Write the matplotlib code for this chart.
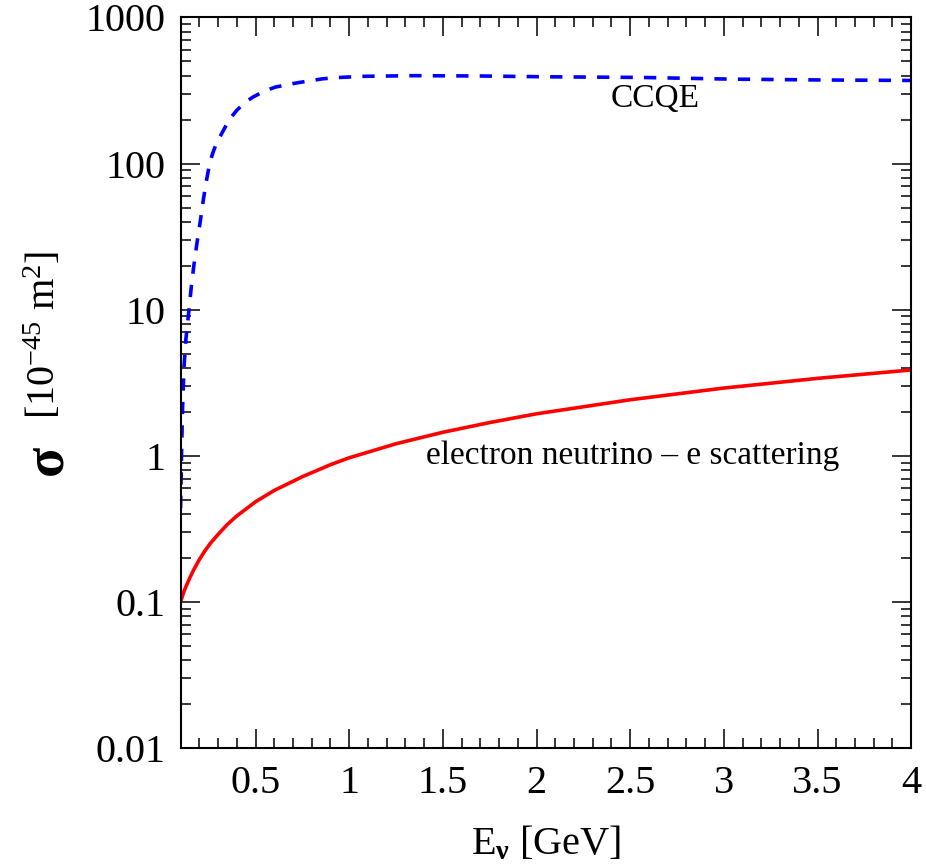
import numpy as np
import matplotlib
matplotlib.use("Agg")
import matplotlib.pyplot as plt
from matplotlib.ticker import FixedLocator, NullFormatter, LogLocator

plt.rcParams['font.family'] = ['Liberation Serif', 'DejaVu Serif']
plt.rcParams['mathtext.fontset'] = 'custom'
plt.rcParams['mathtext.rm'] = 'Liberation Serif'
plt.rcParams['mathtext.it'] = 'Liberation Serif:italic'
plt.rcParams['mathtext.bf'] = 'Liberation Serif:bold'

# CCQE cross section (blue dashed)
ccqe_E = [0.1, 0.105, 0.11, 0.118, 0.128, 0.145, 0.16, 0.175, 0.19, 0.205, 0.222,
          0.237, 0.255, 0.272, 0.29, 0.31, 0.327, 0.36, 0.40, 0.44, 0.487, 0.545,
          0.605, 0.66, 0.72, 0.79, 0.86, 0.95, 1.08, 1.35, 1.7, 2.06, 2.56, 3.03,
          3.5, 4.0]
ccqe_sig = [0.44, 1.0, 2.0, 4.0, 6.2, 10.0, 15.5, 22.0, 30.0, 40.0, 57.0,
            75.0, 100.0, 118.0, 136.0, 152.0, 167.0, 200.0, 231.0, 260.0, 285.0, 312.0,
            333.0, 344.0, 356.0, 368.0, 380.0, 388.0, 395.0, 399.0, 397.0, 392.0, 388.0, 378.0,
            373.0, 370.0]

# electron neutrino - e scattering (red solid)
nue_E = [0.1, 0.11, 0.12, 0.135, 0.15, 0.17, 0.2, 0.23, 0.26, 0.3, 0.35, 0.4, 0.5,
         0.6, 0.75, 0.9, 1.0, 1.25, 1.5, 1.75, 2.0, 2.5, 3.0, 3.5, 4.0]
nue_sig = [0.1, 0.11, 0.12, 0.133, 0.147, 0.166, 0.195, 0.224, 0.253, 0.29, 0.34, 0.388, 0.485,
           0.58, 0.72, 0.87, 0.97, 1.21, 1.45, 1.69, 1.94, 2.42, 2.91, 3.39, 3.87]

xticks = [0.5, 1, 1.5, 2, 2.5, 3, 3.5, 4]
xticklabels = ['0.5', '1', '1.5', '2', '2.5', '3', '3.5', '4']
yticks = [0.01, 0.1, 1, 10, 100, 1000]
yticklabels = ['0.01', '0.1', '1', '10', '100', '1000']

W, H = 926, 867
fig = plt.figure(figsize=(W / 100, H / 100), dpi=100)
ax = fig.add_axes([0.195, 0.137, 0.789, 0.843])

ax.plot(nue_E, nue_sig, color='#ff0000', lw=2.6, solid_capstyle='butt')
ax.plot(ccqe_E, ccqe_sig, color='#0000ff', lw=2.6, dashes=(3.4, 3.1))

ax.set_yscale('log')
ax.set_xlim(0.1, 4)
ax.set_ylim(0.01, 1000)

ax.set_xticks(xticks)
ax.set_xticklabels(xticklabels)
ax.xaxis.set_minor_locator(FixedLocator(np.arange(0.2, 4.0, 0.1)))
ax.set_yticks(yticks)
ax.set_yticklabels(yticklabels)
ax.yaxis.set_minor_locator(LogLocator(base=10, subs=np.arange(2, 10), numticks=20))
ax.yaxis.set_minor_formatter(NullFormatter())

ax.tick_params(which='both', direction='in', top=True, right=True,
               labelsize=29, color='black', width=1.1)
ax.tick_params(which='major', length=13.5)
ax.tick_params(axis='x', which='major', pad=12)
ax.tick_params(axis='y', which='major', pad=11)
ax.tick_params(which='minor', length=7)
for s in ax.spines.values():
    s.set_linewidth(1.5)

fig.text(655 / W, 1 - 99 / H, 'CCQE', fontsize=24, ha='center', va='center')
ax.text(1.41, 1.0, 'electron neutrino – e scattering', fontsize=24,
        ha='left', va='center')

ax.set_xlabel(r'E$_{\mathbf{ν}}$ [GeV]', fontsize=29, labelpad=16)

fig.text(49 / W, 1 - 462 / H, r'$\mathbf{σ}$', fontsize=40, rotation=90,
         ha='center', va='center')
fig.text(44 / W, 1 - 335 / H, r'[10$^{-45}$ m$^{2}$]', fontsize=29, rotation=90,
         ha='center', va='center')

fig.savefig('out.png', dpi=100)
